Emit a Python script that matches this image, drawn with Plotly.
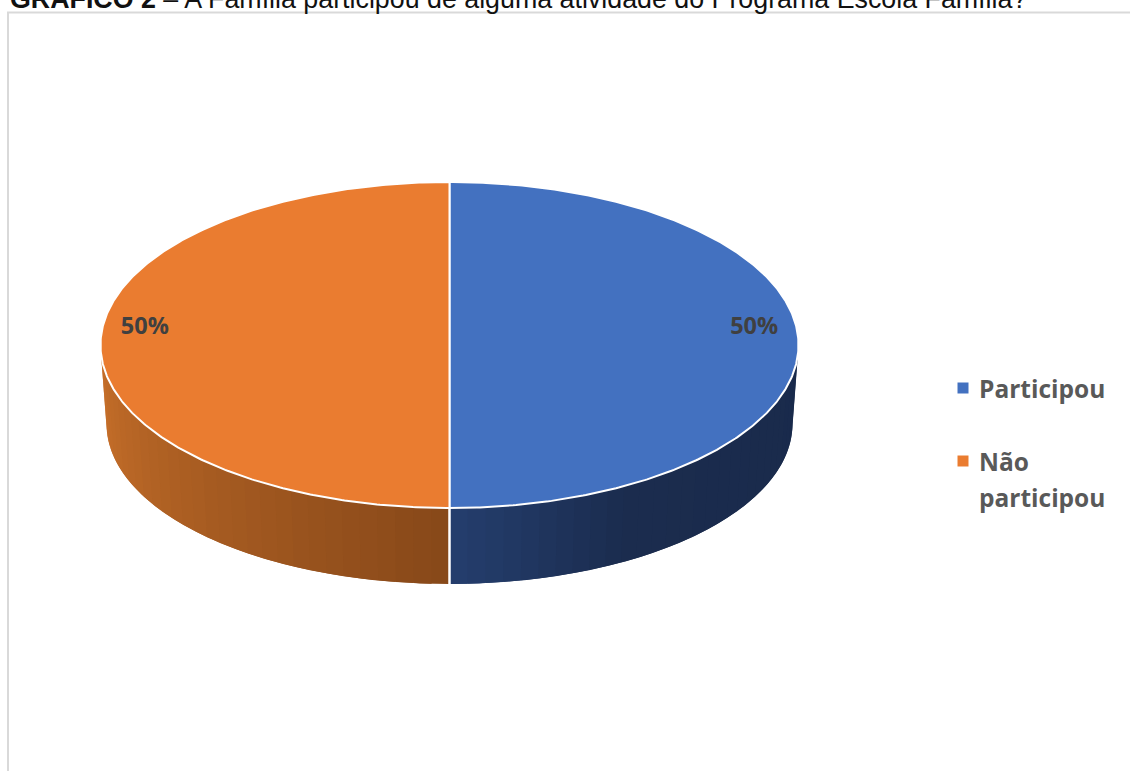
import math
import plotly.graph_objects as go

categories = ["Participou", "Não participou"]
legend_lines = [["Participou"], ["Não", "participou"]]
values = [50, 50]
top_colors = ["#4371C0", "#EA7C30"]
side_stops = [
    [(180, (36, 62, 110)), (150, (27, 44, 78)), (90, (25, 42, 75))],
    [(180, (135, 72, 25)), (270, (200, 112, 42))],
]
title_bold = "GRÁFICO 2"
title_rest = " – A Família participou de alguma atividade do Programa Escola Família?"

CX, CY, RX, RY = 449.5, 345.0, 349.0, 163.0
BX, BY, BRX, BRY = 449.5, 424.0, 343.0, 160.0


def top_pt(a):
    r = math.radians(a)
    return CX + RX * math.sin(r), CY - RY * math.cos(r)


def bot_pt(a):
    r = math.radians(a)
    return BX + BRX * math.sin(r), BY - BRY * math.cos(r)


def side_color(stops, a):
    s = sorted(stops)
    if a <= s[0][0]:
        c = s[0][1]
    elif a >= s[-1][0]:
        c = s[-1][1]
    else:
        for (a0, c0), (a1, c1) in zip(s, s[1:]):
            if a0 <= a <= a1:
                t = (a - a0) / (a1 - a0)
                c = tuple(c0[i] + (c1[i] - c0[i]) * t for i in range(3))
                break
    return "rgb(%d,%d,%d)" % tuple(round(v) for v in c)


fig = go.Figure()
total = sum(values)
start = 0.0
bounds = []
for v in values:
    bounds.append((start, start + 360.0 * v / total))
    start += 360.0 * v / total

# side wall bands, front half only; each band overlaps the next to avoid seams
STEP = 3.0
for i, (a0, a1) in enumerate(bounds):
    lo, hi = max(a0, 90), min(a1, 270)
    n = max(1, int((hi - lo) / STEP))
    d = (hi - lo) / n
    for k in range(n):
        p = lo + d * k
        q = min(hi, p + 2 * d)
        arc = [p + (q - p) * j / 6 for j in range(7)]
        pts = [top_pt(a) for a in arc] + [bot_pt(a) for a in reversed(arc)]
        col = side_color(side_stops[i], p + d / 2)
        fig.add_trace(go.Scatter(
            x=[t[0] for t in pts] + [pts[0][0]], y=[t[1] for t in pts] + [pts[0][1]],
            mode="lines", fill="toself", fillcolor=col, line=dict(width=0),
            hoverinfo="skip", showlegend=False))

# wall separators
for a0, a1 in bounds:
    for a in (a0, a1):
        if 90 < a < 270:
            t, b = top_pt(a), bot_pt(a)
            fig.add_trace(go.Scatter(x=[t[0], b[0]], y=[t[1], b[1]], mode="lines",
                                     line=dict(color="white", width=2),
                                     hoverinfo="skip", showlegend=False))

# top wedges
for i, (a0, a1) in enumerate(bounds):
    n = int(a1 - a0) * 2
    arc = [top_pt(a0 + (a1 - a0) * k / n) for k in range(n + 1)]
    xs = [CX] + [p[0] for p in arc] + [CX]
    ys = [CY] + [p[1] for p in arc] + [CY]
    fig.add_trace(go.Scatter(x=xs, y=ys, mode="lines", fill="toself", fillcolor=top_colors[i],
                             line=dict(color="white", width=2), name=categories[i],
                             hoverinfo="name", showlegend=False))

# data labels
lx, ly, lt = [], [], []
for (a0, a1), v in zip(bounds, values):
    p = top_pt((a0 + a1) / 2)
    lx.append(CX + (p[0] - CX) * 0.873)
    ly.append(CY - 17)
    lt.append(f"{v / total:.0%}")
fig.add_trace(go.Scatter(x=lx, y=ly, text=lt, mode="text", textposition="middle center",
                         textfont=dict(family="Open Sans", size=23.5, color="#404040", weight="bold"),
                         hoverinfo="skip", showlegend=False))

# legend
LEG_FONT = dict(family="Open Sans", size=24.5, color="#595959", weight="bold")
legend_y = [388, 461]
for i, lines in enumerate(legend_lines):
    fig.add_trace(go.Scatter(x=[963], y=[legend_y[i]], mode="markers", name=categories[i],
                             marker=dict(symbol="square", size=11, color=top_colors[i], line=dict(width=0)),
                             hoverinfo="name", showlegend=False))
    for j, line in enumerate(lines):
        fig.add_annotation(x=977, y=legend_y[i] + 36 * j, xanchor="left", yanchor="middle",
                           showarrow=False, text=line, font=LEG_FONT)

fig.add_annotation(xref="x", yref="paper", x=8, y=1, xanchor="left", yanchor="middle", showarrow=False,
                   yshift=2, align="left", text=f"<b>{title_bold}</b>{title_rest}",
                   font=dict(family="Liberation Sans", size=26.8, color="#111111"))

fig.add_shape(type="rect", x0=8, y0=12.5, x1=1140, y1=785, layer="below",
              line=dict(color="#d9d9d9", width=2), fillcolor="white")

fig.update_layout(
    width=1130, height=771, margin=dict(l=0, r=0, t=0, b=0),
    paper_bgcolor="white", plot_bgcolor="white",
    xaxis=dict(range=[0, 1130], visible=False, fixedrange=True),
    yaxis=dict(range=[771, 0], visible=False, fixedrange=True),
    showlegend=False,
)
fig.write_html("out.html", config=dict(displayModeBar=False),
               post_script="document.body.style.margin='0';")
